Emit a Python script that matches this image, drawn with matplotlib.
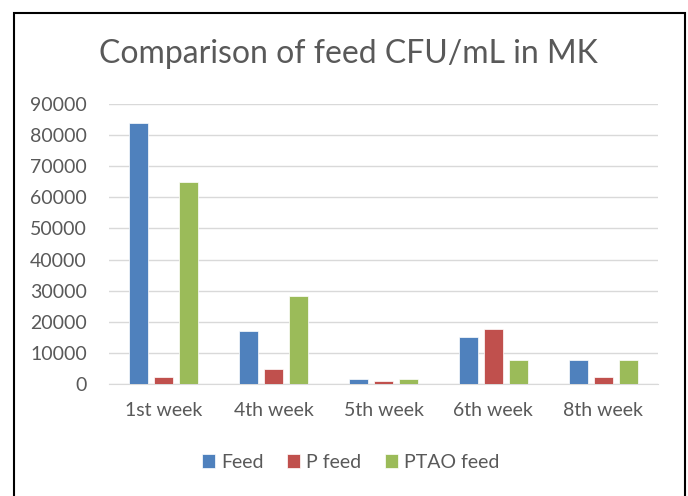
import numpy as np
import matplotlib.pyplot as plt
from matplotlib.patches import Rectangle

weeks = ['1st week', '4th week', '5th week', '6th week', '8th week']
feed = [84000, 17000, 1500, 15200, 7700]
p_feed = [2100, 4700, 850, 17600, 2100]
ptao_feed = [64800, 28200, 1500, 7700, 7700]
series_names = ['Feed', 'P feed', 'PTAO feed']
colors = ['#4F81BD', '#C0504D', '#9BBB59']
yticks = list(range(0, 90001, 10000))

plt.rcParams['font.family'] = ['Lato', 'DejaVu Sans']

fig = plt.figure(figsize=(6.88, 4.96), dpi=100)
# outer chart border (bottom edge runs off the image)
fig.patches.append(Rectangle((14 / 688, -0.01), 671 / 688, 1 - 13 / 496 + 0.01,
                             transform=fig.transFigure, fill=False,
                             edgecolor='black', linewidth=1.5))

ax = fig.add_axes([109 / 688, 1 - 384 / 496, 549 / 688, 280 / 496])
x = np.arange(len(weeks))
w = 0.173
step = 0.227
for i, (vals, name) in enumerate(zip([feed, p_feed, ptao_feed], series_names)):
    ax.bar(x + (i - 1) * step, vals, width=w, color=colors[i], label=name,
           edgecolor='white', linewidth=0.5, zorder=3)

ax.set_xlim(-0.5, len(weeks) - 0.5)
ax.set_ylim(0, 90000)
ax.set_yticks(yticks)
ax.set_yticklabels([str(t) for t in yticks])
ax.set_xticks(x)
ax.set_xticklabels(weeks)
ax.grid(axis='y', color='#D9D9D9', linewidth=1, zorder=0)
for s in ['top', 'right', 'left']:
    ax.spines[s].set_visible(False)
ax.spines['bottom'].set_color('#D9D9D9')
ax.tick_params(axis='both', length=0, labelsize=14, labelcolor='#595959')
ax.tick_params(axis='x', pad=13)
ax.tick_params(axis='y', pad=16)

fig.text(348 / 688, 1 - 54 / 496, 'Comparison of feed CFU/mL in MK', ha='center', va='center',
         fontsize=23, color='#595959')

ax.legend(loc='center', bbox_to_anchor=(0.44, -0.28), ncol=3, frameon=False, fontsize=14,
          handlelength=0.7, handleheight=0.7, handletextpad=0.3, columnspacing=1.2,
          labelcolor='#595959')

fig.savefig('out.png', dpi=100)
